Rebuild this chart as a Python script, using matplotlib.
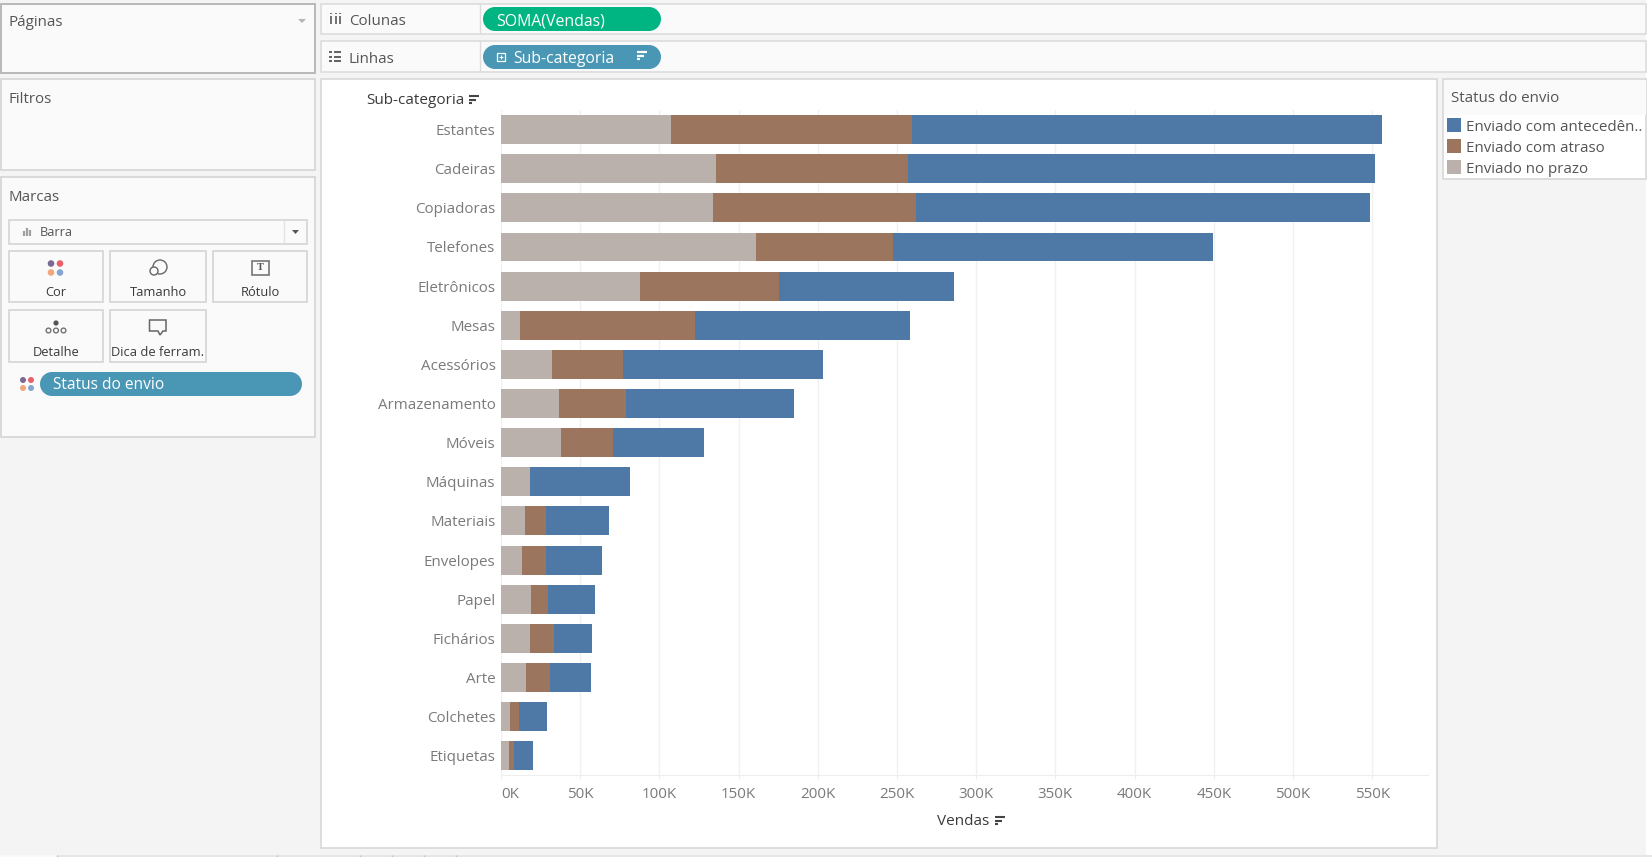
import matplotlib
matplotlib.use("Agg")
import matplotlib.pyplot as plt
from matplotlib.patches import Rectangle, Circle, Polygon

subcategorias = ["Estantes", "Cadeiras", "Copiadoras", "Telefones", "Eletrônicos", "Mesas",
                 "Acessórios", "Armazenamento", "Móveis", "Máquinas", "Materiais", "Envelopes",
                 "Papel", "Fichários", "Arte", "Colchetes", "Etiquetas"]
# vendas em milhares
no_prazo = [107.5, 136, 134, 161, 88, 12, 32, 36.5, 38, 18, 15, 13.5, 19, 18, 16, 5.5, 5]
com_atraso = [152, 121, 128, 86.5, 87.5, 110.5, 45, 42.5, 33, 0, 13.5, 15, 10.5, 15.5, 15, 6, 3]
com_antecedencia = [296.5, 295, 286.5, 202, 110.5, 135.5, 126, 106, 57, 63.5, 39.5, 35, 30, 24, 26, 17.5, 12]
ticks = [0, 50, 100, 150, 200, 250, 300, 350, 400, 450, 500, 550]
tick_labels = ["0K", "50K", "100K", "150K", "200K", "250K", "300K", "350K", "400K", "450K", "500K", "550K"]
legenda = ["Enviado com antecedên..", "Enviado com atraso", "Enviado no prazo"]

AZUL = "#4e79a7"
MARROM = "#9c755f"
CINZA = "#bab0ac"
W, H = 1652, 857

plt.rcParams["font.family"] = ["Open Sans", "DejaVu Sans"]
fig = plt.figure(figsize=(W / 100, H / 100), dpi=100, facecolor="#f4f4f4")

# camada de interface, em pixels
ui = fig.add_axes([0, 0, 1, 1], zorder=0)
ui.set_xlim(0, W)
ui.set_ylim(H, 0)
ui.axis("off")


def panel(x0, y0, x1, y1, face="#fafafa", edge="#d4d4d4", lw=1.2):
    ui.add_patch(Rectangle((x0, y0), x1 - x0, y1 - y0, fc=face, ec=edge, lw=lw))


def label(x, y, s, size=10.9, color="#555555", ha="left", weight="normal"):
    ui.text(x, y + 1.5, s, fontsize=size, color=color, ha=ha, va="center", fontweight=weight)


def pill(x0, y0, x1, y1, color):
    r = (y1 - y0) / 2
    ui.add_patch(Rectangle((x0 + r, y0), x1 - x0 - 2 * r, y1 - y0, fc=color, ec="none"))
    ui.add_patch(Circle((x0 + r, y0 + r), r, fc=color, ec="none"))
    ui.add_patch(Circle((x1 - r, y0 + r), r, fc=color, ec="none"))


def stroke(xs, ys, color="#555555", lw=1.3):
    ui.plot(xs, ys, color=color, lw=lw, solid_capstyle="butt")


def sort_icon(x, y, color="#555555", lw=1.6):
    for i, w in enumerate([10, 7, 3]):
        stroke([x, x + w], [y + i * 3.5, y + i * 3.5], color, lw)


def dots(x, y, d=4.5, r=3.3):
    for dx, dy, c in [(-d, -d, "#7b6a94"), (d, -d, "#e8606a"), (-d, d, "#f2a77a"), (d, d, "#85a5d0")]:
        ui.add_patch(Circle((x + dx, y + dy), r, fc=c, ec="none"))


# faixa branca da direita e abas de baixo
ui.add_patch(Rectangle((1646, 0), 6, H, fc="white", ec="none"))
ui.add_patch(Rectangle((0, 855), 57, 2, fc="#fafafa", ec="none"))
ui.add_patch(Rectangle((57, 855), W - 57, 2, fc="#e6e6e6", ec="none"))
for x in [57, 277, 360, 392, 424, 456]:
    stroke([x, x], [855, 857], "#c4c4c4", 1)

# painéis da esquerda
panel(1, 3.5, 315, 72.5, edge="#b8b8b8", lw=1.4)
panel(1, 79, 315, 170)
panel(1, 177, 315, 437)
label(9, 21, "Páginas")
ui.add_patch(Polygon([[298, 19], [306, 19], [302, 23]], fc="#b5b5b5", ec="none"))
label(9, 98, "Filtros")
label(9, 196, "Marcas")

# prateleiras
panel(321, 3.5, 1646, 34, edge="#dcdcdc")
panel(321, 41, 1646, 72, edge="#dcdcdc")
stroke([480, 480], [3.5, 34], "#dcdcdc", 1)
stroke([480, 480], [41, 72], "#dcdcdc", 1)
for x in [331, 335.5, 340]:
    stroke([x, x], [16, 24], "#666666")
    stroke([x, x], [12.5, 14], "#666666")
for y in [52, 56.5, 61]:
    stroke([329, 331.5], [y, y])
    stroke([333.5, 341], [y, y])
label(349, 20, "Colunas")
label(349, 58, "Linhas")
pill(483, 7, 661, 31, "#00b582")
label(496, 19.5, "SOMA(Vendas)", 11.4, "white")
pill(483, 45, 661, 69, "#4a97b5")
ui.add_patch(Rectangle((497, 53), 8, 8, fc="none", ec="white", lw=0.9))
stroke([499, 503], [57, 57], "white", 0.8)
stroke([501, 501], [55, 59], "white", 0.8)
label(513, 57.5, "Sub-categoria", 11.3, "white")
sort_icon(637, 52, "white")

# cartão de marcas
panel(9, 220, 307, 244, edge="#d4d4d4")
stroke([284, 284], [220, 244], "#e2e2e2", 1)
for x, h in [(24, 5), (27, 8), (30, 6)]:
    stroke([x, x], [236, 236 - h], "#a0a0a0", 1.6)
label(40, 231, "Barra", 9.2, "#555555")
ui.add_patch(Polygon([[292, 230], [299, 230], [295.5, 234]], fc="#555555", ec="none"))

cards = [(9, 251, 103, 302, "Cor"), (110, 251, 206, 302, "Tamanho"), (213, 251, 307, 302, "Rótulo"),
         (9, 310, 103, 362, "Detalhe"), (110, 310, 206, 362, "Dica de ferram.")]
for x0, y0, x1, y1, s in cards:
    panel(x0, y0, x1, y1, edge="#d4d4d4")
    label((x0 + x1) / 2, y1 - 11, s, 9.3, "#3a3a3a", "center")
dots(55.5, 268)
ui.add_patch(Circle((160, 267), 7, fc="none", ec="#666666", lw=1))
ui.add_patch(Circle((154, 271), 4, fc="#fafafa", ec="#666666", lw=1))
ui.add_patch(Rectangle((252, 261), 16.5, 14, fc="none", ec="#777777", lw=1.2))
ui.text(260.3, 268, "T", fontsize=7.5, color="#555555", ha="center", va="center", family="Liberation Serif",
        fontweight="bold")
ui.add_patch(Circle((56, 323), 2.6, fc="#555555", ec="none"))
for x in [48.5, 56, 63.5]:
    ui.add_patch(Circle((x, 330.5), 2.4, fc="none", ec="#666666", lw=0.9))
ui.add_patch(Polygon([[149.5, 320], [166, 320], [166, 331], [163, 331], [160, 335], [158, 331], [149.5, 331]],
                     fc="none", ec="#666666", lw=1.1))
dots(27, 384, 4, 3)
pill(40, 372, 302, 396, "#4a97b5")
label(53, 383.5, "Status do envio", 11.2, "white")

# painel do gráfico
panel(321, 79, 1437, 848, face="white", edge="#d8d8d8")
label(366, 98.5, "Sub-categoria", 11, "#3a3a3a", weight=500)
sort_icon(469, 96, "#444444", 1.5)
label(937, 820, "Vendas", 11, "#3a3a3a", weight=500)
sort_icon(995, 817, "#444444", 1.5)

# legenda
panel(1443, 79, 1646, 179, face="white", edge="#d8d8d8")
ui.add_patch(Rectangle((1444, 80), 202, 35, fc="#fafafa", ec="none"))
label(1451, 97, "Status do envio")
for y, c, s in zip([118, 139, 160], [AZUL, MARROM, CINZA], legenda):
    ui.add_patch(Rectangle((1447, y), 14, 14, fc=c, ec="none"))
    label(1466, y + 7.5, s)

# barras empilhadas
ax = fig.add_axes([501 / W, 1 - 775 / H, (1428 - 501) / W, (775 - 110) / H], zorder=1)
ax.patch.set_alpha(0)
pos = list(range(len(subcategorias)))
esq2 = no_prazo
esq3 = [a + b for a, b in zip(no_prazo, com_atraso)]
ax.barh(pos, no_prazo, height=0.74, color=CINZA, zorder=2)
ax.barh(pos, com_atraso, left=esq2, height=0.74, color=MARROM, zorder=2)
ax.barh(pos, com_antecedencia, left=esq3, height=0.74, color=AZUL, zorder=2)
ax.set_xlim(0, 585.2)
ax.set_ylim(16.49, -0.5)
ax.set_yticks(pos)
ax.set_yticklabels(subcategorias, fontsize=10.9, color="#7a7a7a")
ax.tick_params(axis="y", length=0, pad=4)
ax.set_xticks(ticks)
ax.set_xticklabels(tick_labels, fontsize=10.9, color="#7a7a7a")
ax.tick_params(axis="x", length=3, width=0.8, color="#eeeeee", pad=6)
ax.get_xticklabels()[0].set_ha("left")
ax.xaxis.grid(True, color="#f0f0f0", lw=1, zorder=0)
ax.set_axisbelow(True)
for name in ["top", "right", "left"]:
    ax.spines[name].set_visible(False)
ax.spines["bottom"].set_color("#eeeeee")

fig.savefig("out.png", dpi=100, facecolor=fig.get_facecolor())
